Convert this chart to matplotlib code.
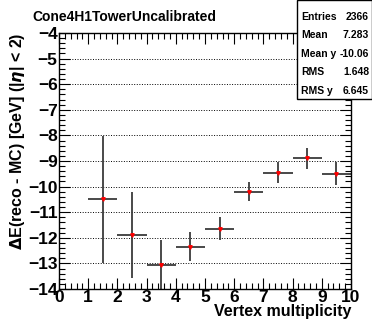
import matplotlib
matplotlib.use("Agg")
import matplotlib.pyplot as plt
import numpy as np
from matplotlib.ticker import MultipleLocator

plt.rcParams['font.family'] = ['Liberation Sans', 'DejaVu Sans']
plt.rcParams['font.weight'] = 'bold'

# profile values
x_centres = [1.5, 2.5, 3.5, 4.5, 5.5, 6.5, 7.5, 8.5, 9.5]
x_halfwidth = [0.5, 0.5, 0.5, 0.5, 0.5, 0.5, 0.5, 0.5, 0.5]
y_values = [-10.5, -11.9, -13.05, -12.35, -11.65, -10.2, -9.45, -8.9, -9.5]
y_errors = [2.47, 1.68, 0.95, 0.57, 0.45, 0.38, 0.4, 0.4, 0.45]

stat_names = ["Entries", "Mean", "Mean y", "RMS", "RMS y"]
stat_values = ["2366", "7.283", "-10.06", "1.648", "6.645"]

fig = plt.figure(figsize=(3.72, 3.21), dpi=100)
ax = fig.add_axes([59/372, 1-289/321, 292/372, 256/321])

ax.errorbar(x_centres, y_values, xerr=x_halfwidth, yerr=y_errors,
            fmt='none', ecolor='#3a3a3a', elinewidth=1.3, capsize=0)
ax.plot(x_centres, y_values, 'v', color='red', ms=2.5, mec='red')

ax.set_xlim(0, 10)
ax.set_ylim(-14, -4)
ax.xaxis.set_major_locator(MultipleLocator(1))
ax.xaxis.set_minor_locator(MultipleLocator(0.2))
ax.yaxis.set_major_locator(MultipleLocator(1))
ax.yaxis.set_minor_locator(MultipleLocator(0.2))
ax.tick_params(which='both', direction='in', top=True, right=True, labelsize=12.5, pad=1)
ax.tick_params(which='major', length=8, width=0.8)
ax.tick_params(which='minor', length=4, width=0.8)
for s in ax.spines.values():
    s.set_linewidth(1.0)
ax.grid(axis='y', which='major', linestyle=':', color='black', linewidth=0.7)

ax.set_xlabel("Vertex multiplicity", fontsize=11.5, fontweight='bold', loc='right', labelpad=-1)
ax.set_ylabel(r"$\Delta$E(reco - MC) [GeV] (|$\eta$| < 2)", fontsize=11.5, fontweight='bold',
              loc='top', labelpad=1)

fig.text(32/372, 1-17/321, "Cone4H1TowerUncalibrated", fontsize=10, fontweight='bold',
         ha='left', va='center')

# stats box
box = plt.Rectangle((297/372, 1-99/321), 75/372, 99/321, transform=fig.transFigure,
                    facecolor='white', edgecolor='black', linewidth=1.0, zorder=5)
fig.patches.append(box)
for i in range(len(stat_names)):
    yy = 1 - (17 + i*18.4)/321
    fig.text(301/372, yy, stat_names[i], fontsize=7.5, fontweight='bold', ha='left', va='center', zorder=6)
    fig.text(369/372, yy, stat_values[i], fontsize=7.5, fontweight='bold', ha='right', va='center', zorder=6)

fig.savefig("out.png", dpi=100)
